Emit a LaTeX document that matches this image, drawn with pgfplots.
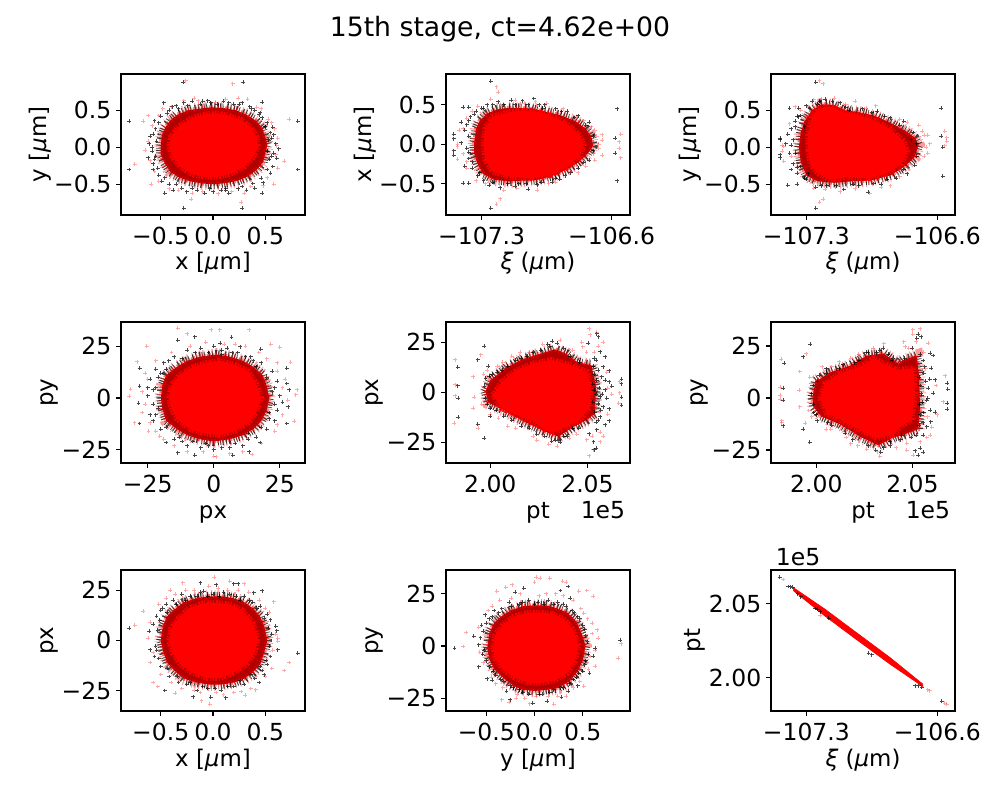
\documentclass[border=0pt]{standalone}
\usepackage{fontspec}
\setmainfont{DejaVu Sans}
\usepackage{pgfplots}
\pgfplotsset{compat=1.18}
\newcommand\fs{\fontsize{16.9}{20}\selectfont}
\newcommand\fl{\fontsize{16.5}{20}\selectfont}
\newcommand\mum{[{\itshape μ}m]}
\newcommand\xilab{{\itshape ξ} ({\itshape μ}m)}
\definecolor{haloc}{rgb}{0.7,0,0}
\pgfplotsset{
 panel/.style={width=132.5pt,height=101.5pt,scale only axis,anchor=south west,
  tick align=outside,tick pos=left,major tick length=3.5pt,axis line style={line width=0.8pt},
  every tick/.style={black,line width=0.8pt},
  tick label style={font=\fs},label style={font=\fl},
  xticklabel style={yshift=-2pt},
  xlabel style={at={(axis description cs:0.5,0)},anchor=base,yshift=-39.6pt},
  ylabel style={yshift=-4.5pt},
  clip=true},
 blk/.style={only marks,mark=+,mark size=1.4pt,mark options={draw=black,draw opacity=.72,line width=.65pt}},
 rd/.style={only marks,mark=+,mark size=1.4pt,mark options={draw=red,draw opacity=.35,line width=.65pt}},
 brpink/.style={fill=none,draw=red,draw opacity=.4,line width=9pt,dash pattern=on .6pt off 1.4pt on .9pt off 3.1pt on .5pt off 2.2pt on .8pt off 1.8pt,mark=none},
 brblack/.style={fill=none,draw=black,draw opacity=.75,line width=6.5pt,dash pattern=on .7pt off 1.1pt on .5pt off 2.6pt on 1pt off 1.5pt on .6pt off 1.9pt on .8pt off .9pt,mark=none},
 brred/.style={fill=haloc,draw=red,draw opacity=.55,line width=3pt,dash pattern=on .9pt off 1.3pt on .6pt off .8pt on 1.2pt off 1pt,mark=none},
 brcore/.style={fill=red,draw=red,line width=4pt,dash pattern=on 1.1pt off .8pt on .8pt off 1.4pt on 1.5pt off .7pt,mark=none},
}
\newcommand\halo[1]{\addplot[brpink] coordinates {#1} --cycle;\addplot[brblack] coordinates {#1} --cycle;\addplot[brred] coordinates {#1} --cycle;}
\newcommand\core[1]{\addplot[brcore] coordinates {#1} --cycle;}
\begin{document}
\begin{tikzpicture}
\path[use as bounding box] (0,0) rectangle (720pt,576pt);
\node[font=\fontsize{19.2}{24}\selectfont] at (360pt,555pt) {15th stage, ct=4.62e+00};
% ---------- panel 1
\begin{axis}[panel,at={(87.12pt,421.2pt)},xmin=-0.88,xmax=0.88,ymin=-0.915,ymax=0.99,
 xtick={-0.5,0,0.5},xticklabels={−0.5,0.0,0.5},ytick={-0.5,0,0.5},yticklabels={−0.5,0.0,0.5},
 xlabel={x \mum},ylabel={y \mum}]
\addplot[blk] coordinates {(-.80,.35)(-.80,-.30)(-.285,.88)(.29,.88)(.81,.35)(.81,-.30)(-.28,-.82)(.28,-.82)(-.46,-.62)(.47,-.62)
(.60,.05)(.58,-.08)(.61,-.15)(.55,.20)(.57,.27)(.52,.33)(.47,.40)(.47,.61)(.40,.50)(.35,.55)(.28,.60)(.20,.58)(.10,.62)(.04,.58)(-.05,.63)(-.12,.58)(-.20,.62)(-.28,.60)(-.35,.56)(-.47,.60)(-.42,.50)(-.50,.42)(-.56,.36)(-.55,.25)(-.60,.15)(-.61,.05)(-.58,-.05)(-.62,-.14)(-.57,-.22)(-.57,-.30)(-.52,-.38)(-.49,-.46)(-.42,-.50)(-.38,-.58)(-.30,-.55)(-.25,-.60)(-.15,-.58)(-.08,-.62)(0,-.60)(.08,-.58)(.15,-.62)(.24,-.56)(.32,-.58)(.40,-.55)(.48,-.48)(.55,-.35)(.57,-.26)(.63,-.02)(.56,.12)(-.54,.08)(-.55,-.12)(.54,-.16)(.45,.47)(-.39,.55)(.12,-.55)
(.53,.10)(.52,-.05)(.50,.28)(.44,.44)(.37,.52)(.25,.58)(.15,.60)(-.02,.60)(-.10,.62)(-.24,.56)(-.33,.52)(-.44,.46)(-.52,.33)(-.57,.18)(-.58,.0)(-.56,-.16)(-.53,-.28)(-.46,-.41)(-.35,-.50)(-.20,-.55)(-.03,-.56)(.12,-.58)(.28,-.53)(.38,-.49)(.46,-.42)(.52,-.30)(.56,-.12)(.58,.17)};
\addplot[rd] coordinates {(-.26,.90)(.19,.86)(-.67,.35)(-.75,-.23)(.73,.38)(.68,-.19)(-.21,-.70)(.27,-.74)(-.62,.43)(-.59,-.50)(.58,-.50)
(.46,.52)(.33,.65)(.24,.66)(-.28,.63)(-.40,.55)(-.48,.52)(-.58,.29)(-.62,.08)(-.60,-.18)(-.52,-.46)(-.33,-.58)(-.10,-.60)(.18,-.60)(.36,-.53)(.52,-.41)(.60,-.10)(.59,.25)(.53,.38)(.02,.61)(-.14,.63)
(.62,.12)(.56,.33)(.42,.54)(.12,.65)(-.18,.66)(-.52,.43)(-.65,-.04)(-.56,-.32)(-.42,-.56)(-.20,-.62)(.05,-.63)(.30,-.62)(.48,-.52)(.62,-.28)(.61,.02)};
\halo{(-.50,.02)(-.49,.16)(-.46,.26)(-.41,.36)(-.34,.44)(-.24,.50)(-.14,.52)(-.02,.54)(.10,.53)(.22,.50)(.32,.44)(.41,.36)(.47,.26)(.50,.14)(.52,.03)(.50,-.08)(.48,-.20)(.42,-.30)(.34,-.39)(.24,-.45)(.14,-.48)(.02,-.50)(-.10,-.49)(-.22,-.46)(-.32,-.41)(-.41,-.33)(-.46,-.22)(-.50,-.10)}
\core{(-.42,.02)(-.40,.15)(-.33,.28)(-.22,.38)(-.10,.44)(.03,.46)(.15,.43)(.27,.37)(.36,.27)(.42,.13)(.43,.00)(.38,-.14)(.30,-.26)(.18,-.35)(.05,-.40)(-.08,-.40)(-.20,-.36)(-.31,-.27)(-.39,-.13)}
\end{axis}
% ---------- panel 2
\begin{axis}[panel,at={(321.12pt,421.2pt)},xmin=-107.492,xmax=-106.501,ymin=-0.895,ymax=0.89,
 xtick={-107.3,-106.6},xticklabels={−107.3,−106.6},ytick={-0.5,0,0.5},yticklabels={−0.5,0.0,0.5},
 xlabel={\xilab},ylabel={x \mum}]
\addplot[blk] coordinates {(-107.25,.80)(-107.25,-.81)(-106.57,.45)(-106.57,-.46)(-106.58,.08)(-106.58,-.11)(-107.45,.13)(-107.45,.07)(-107.45,-.08)(-107.45,-.14)(-107.40,.47)(-107.37,.47)(-107.40,-.49)(-107.37,-.49)
(-107.39,.18)(-107.38,.25)(-107.36,.35)(-107.33,.42)(-107.27,.50)(-107.21,.54)(-107.14,.56)(-107.08,.55)(-107.02,.58)(-106.96,.50)(-106.90,.45)(-106.84,.42)(-106.78,.36)(-106.72,.28)
(-107.38,-.05)(-107.37,-.18)(-107.35,-.30)(-107.32,-.40)(-107.26,-.52)(-107.20,-.55)(-107.12,-.53)(-107.05,-.57)(-107.00,-.51)(-106.92,-.48)(-106.85,-.40)(-106.78,-.30)(-106.72,-.20)(-107.41,.02)(-107.29,.46)(-107.29,-.46)(-107.18,.50)(-106.99,.50)(-107.10,-.50)(-106.88,-.44)
(-107.37,.10)(-107.37,.30)(-107.34,.38)(-107.30,.46)(-107.24,.50)(-107.12,.50)(-107.05,.50)(-106.97,.46)(-106.87,.41)(-106.80,.34)(-106.74,.24)(-106.70,.10)(-106.70,-.08)(-106.75,-.23)(-106.82,-.36)(-106.90,-.43)(-106.98,-.48)(-107.06,-.50)(-107.16,-.50)(-107.24,-.48)(-107.31,-.36)(-107.35,-.22)(-107.37,-.10)(-107.39,-.28)(-107.41,.28)};
\addplot[rd] coordinates {(-107.22,.73)(-107.21,.66)(-107.22,-.76)(-107.20,-.69)(-106.55,.13)(-106.56,.03)(-106.56,-.05)(-106.55,-.17)(-107.43,0)(-107.43,-.03)(-107.43,-.19)(-107.42,.18)(-106.65,.12)(-106.65,.05)(-106.65,-.14)
(-107.38,.33)(-107.35,.42)(-107.12,.56)(-107.07,.52)(-106.95,.52)(-106.75,.30)(-106.69,.18)(-106.68,.10)(-106.67,-.05)(-106.69,-.20)(-106.74,-.28)(-106.82,-.35)(-106.90,-.48)(-107.00,-.58)(-107.11,-.56)(-107.28,-.50)(-107.38,-.30)(-106.78,.28)
(-107.40,.20)(-107.40,-.12)(-107.38,-.22)(-107.32,.48)(-107.25,.57)(-107.01,.54)(-106.86,.45)(-106.71,.22)(-106.67,0)(-106.70,-.12)(-106.78,-.36)(-106.94,-.50)(-107.18,-.58)(-107.33,-.46)};
\halo{(-107.34,.03)(-107.33,.2)(-107.31,.3)(-107.27,.39)(-107.22,.44)(-107.16,.46)(-107.10,.46)(-107.03,.45)(-106.95,.41)(-106.88,.37)(-106.80,.30)(-106.74,.20)(-106.71,.10)(-106.70,-.02)(-106.73,-.12)(-106.78,-.23)(-106.85,-.33)(-106.92,-.40)(-107.00,-.45)(-107.08,-.46)(-107.15,-.47)(-107.23,-.45)(-107.29,-.38)(-107.32,-.26)(-107.34,-.12)}
\core{(-107.29,.01)(-107.28,.22)(-107.24,.35)(-107.15,.41)(-107.04,.43)(-106.93,.37)(-106.84,.26)(-106.77,.11)(-106.75,-.01)(-106.77,-.14)(-106.84,-.29)(-106.93,-.39)(-107.04,-.43)(-107.15,-.41)(-107.24,-.35)(-107.28,-.20)}
\end{axis}
% ---------- panel 3
\begin{axis}[panel,at={(555.12pt,421.2pt)},xmin=-107.489,xmax=-106.505,ymin=-0.915,ymax=0.99,
 xtick={-107.3,-106.6},xticklabels={−107.3,−106.6},ytick={-0.5,0,0.5},yticklabels={−0.5,0.0,0.5},
 xlabel={\xilab},ylabel={y \mum}]
\addplot[blk] coordinates {(-107.25,.88)(-107.25,-.82)(-106.58,.53)(-106.58,.15)(-106.57,0)(-106.57,-.39)(-107.44,.12)(-107.44,.10)(-107.44,-.10)(-107.44,-.14)(-107.40,-.51)(-107.35,-.50)(-107.39,.53)(-107.34,.53)
(-107.40,.18)(-107.38,.25)(-107.36,.35)(-107.33,.43)(-107.27,.62)(-107.20,.65)(-107.12,.60)(-107.07,.50)(-107.00,.52)(-106.92,.49)(-106.85,.40)(-106.78,.35)(-107.39,-.08)(-107.37,-.22)(-107.35,-.35)(-107.30,-.43)(-107.25,-.54)(-107.19,-.52)(-107.10,-.57)(-107.02,-.52)(-106.97,-.61)(-106.90,-.50)(-106.82,-.42)(-106.76,-.36)(-106.72,-.24)(-107.38,.03)(-107.34,.41)(-107.31,.28)(-107.33,-.26)(-107.29,-.36)(-107.24,.58)(-106.74,.10)
(-107.37,.10)(-107.36,.28)(-107.35,.42)(-107.30,.56)(-107.23,.62)(-107.16,.62)(-107.09,.54)(-106.95,.47)(-106.88,.42)(-106.80,.30)(-106.73,.20)(-106.71,.05)(-106.71,-.12)(-106.78,-.30)(-106.87,-.43)(-106.94,-.49)(-107.05,-.50)(-107.14,-.52)(-107.22,-.52)(-107.31,-.42)(-107.35,-.27)(-107.36,-.08)(-107.41,.05)(-107.38,-.30)};
\addplot[rd] coordinates {(-107.23,.90)(-107.21,.86)(-107.23,-.74)(-107.21,-.70)(-106.56,.22)(-106.55,.13)(-106.55,.08)(-106.56,.02)(-107.43,.03)(-107.42,.01)(-107.43,-.05)(-107.42,-.19)(-106.65,.16)(-106.64,.05)(-106.65,-.08)
(-107.36,.55)(-107.30,.42)(-107.22,.65)(-107.15,.66)(-107.04,.62)(-106.93,.56)(-106.80,.38)(-106.70,.30)(-106.67,.16)(-106.71,-.10)(-106.76,-.27)(-106.85,-.52)(-106.96,-.62)(-107.12,-.60)(-107.20,-.57)(-107.35,-.22)
(-107.39,.32)(-107.33,.50)(-107.26,.64)(-107.09,.58)(-106.98,.53)(-106.76,.34)(-106.68,.22)(-106.66,.0)(-106.67,-.12)(-106.80,-.40)(-106.90,-.54)(-107.04,-.56)(-107.26,-.55)(-107.38,-.12)};
\halo{(-107.34,.0)(-107.33,.2)(-107.31,.35)(-107.27,.5)(-107.22,.58)(-107.15,.57)(-107.10,.50)(-107.03,.48)(-106.94,.43)(-106.85,.33)(-106.77,.22)(-106.72,.13)(-106.70,.03)(-106.72,-.13)(-106.77,-.25)(-106.85,-.38)(-106.96,-.45)(-107.06,-.46)(-107.15,-.48)(-107.24,-.46)(-107.30,-.38)(-107.33,-.20)}
\core{(-107.29,-.04)(-107.29,.19)(-107.27,.41)(-107.24,.52)(-107.17,.55)(-107.11,.48)(-107.03,.44)(-106.94,.37)(-106.85,.24)(-106.78,.08)(-106.76,-.06)(-106.79,-.22)(-106.87,-.35)(-106.96,-.42)(-107.08,-.40)(-107.17,-.44)(-107.24,-.35)(-107.28,-.22)}
\end{axis}
% ---------- panel 4
\begin{axis}[panel,at={(87.12pt,242.64pt)},xmin=-35.1,xmax=34.5,ymin=-31.4,ymax=36.7,
 xtick={-25,0,25},xticklabels={−25,0,25},ytick={-25,0,25},yticklabels={−25,0,25},
 xlabel={px},ylabel={py}]
\addplot[blk] coordinates {(-13.7,27.9)(-7.2,29.5)(2.5,26.5)(6.7,29.4)(10,24.8)(17.7,23.5)(-28,14.4)(27.6,14.4)(-28.1,5.8)(-28.5,-2.6)(-28.1,-12.3)(27.6,-12.3)(27.6,7)(28.5,3.9)(28.1,-4.2)(-13.7,-26.5)(-7.2,-27.7)(7.2,-27.7)(13.3,-26)(-18,-21.5)(17.5,-21.5)
(-24,9)(-25,1)(-24,-8)(-22,14)(-19,17)(-15,20)(-10,23)(-5,24)(0,25)(5,24)(9,22)(14,20)(18,17)(22,13)(24,8)(25,1)(24,-6)(23,-11)(20,-15)(16,-19)(11,-23)(6,-24)(0,-25)(-5,-24)(-10,-23)(-15,-20)(-20,-15)(-23,-11)(-22,5)(-21,-5)(22,3)(21,-7)(-17,18)(-12,-21)(3,23)(-2,-23)(13,-20)
(-23,4)(-23,-3)(-21,10)(-18,14)(-12,19)(-7,22)(-2,22)(3,21)(7,22)(12,20)(16,15)(20,10)(23,5)(23,-3)(21,-10)(18,-14)(13,-17)(8,-22)(3,-24)(-3,-22)(-8,-21)(-13,-19)(-18,-14)(-22,-8)(-25,5)(26,-2)(-20,12)(15,18)};
\addplot[rd] coordinates {(-13.7,33.7)(-1,33)(2.3,33)(13.3,33)(-10,31)(-25.4,25)(21.5,26)(25,24.5)(-29,17.6)(29,17.3)(-31.5,4.2)(-32,.8)(31.5,3.9)(31,1.5)(-30,-12)(30.4,-11.3)(-24.7,-16)(-20.5,-18.4)(.9,-28.4)(14.6,-27.3)(-10,-26)
(-26,12)(-27,-7)(24,13)(26,-8)(23,-16)(18,-22)(6,-27)(-4,-26)(-15,-23)(-24,-12)(-22,18)(-16,22)(4,26)(12,25)(20,19)(26,5)
(-27,3)(-26,-3)(-25,9)(-22,-16)(-19,-20)(-9,25)(-3,27)(8,26)(17,22)(24,17)(28,-1)(27,9)(24,-13)(11,-26)(0,-28)};
\halo{(-20,0)(-19.5,6)(-18,11)(-14,15)(-10,18)(-5,20)(1,21)(6,20)(11,18)(15,15)(18.5,11)(20,6)(21,0)(20,-6)(18,-11)(15,-15)(11,-18)(6,-20)(0,-21)(-5,-20)(-10,-18)(-14,-15)(-18,-11)(-19.5,-5)}
\core{(-17,0)(-16,6)(-13,11)(-8,15)(-3,17)(2,18)(8,16)(13,13)(16,7)(18,0)(16,-7)(13,-12)(8,-16)(2,-18)(-4,-17)(-9,-15)(-14,-10)(-16,-5)}
\end{axis}
% ---------- panel 5
\begin{axis}[panel,at={(321.12pt,242.64pt)},xmin=1.9772,xmax=2.0719,ymin=-35.35,ymax=35.15,
 xtick={2.00,2.05},xticklabels={2.00,2.05},ytick={-25,0,25},yticklabels={−25,0,25},
 xlabel={pt},ylabel={px}]
\addplot[blk] coordinates {(1.9833,12.5)(1.9833,3.2)(1.9835,-3)(1.9835,-12.5)(1.9935,16.2)(1.9935,-16)(1.9969,23)(1.9969,-23)(2.0675,6.5)(2.0675,4.2)(2.0675,-2.5)(2.0675,-6.5)(2.0612,10.7)(2.0612,5.3)(2.0612,-8.3)(2.0612,-14.2)(2.0548,29.2)(2.0557,27.8)(2.0534,-28.8)(2.0544,-28)(2.0505,24.5)(2.0565,20.3)(2.0591,17.8)(2.0582,12.8)(2.0574,7.8)(2.0591,1.2)(2.0565,-2.2)(2.06,-3)(2.0582,-7.2)(2.0565,-12.2)(2.0591,-16.3)(2.0548,-18.8)(2.051,-20.8)(2.0531,-24.7)
(2.0527,4)(2.0535,1)(2.0545,-1)(2.0527,-5)(2.0535,9)(2.053,13)(2.0545,16)(2.0548,6)(2.0555,-6)(2.0538,-10)(2.0545,-15)(2.056,2)(2.0575,-1)(2.0318,25.6)(2.0345,24.5)(2.0378,22)(2.0295,24)(2.026,21)(2.019,18)(2.013,16)(2.006,11)(1.9995,8)(1.997,3)(1.9975,-3)(2.0,-8)(2.007,-12)(2.016,-17)(2.024,-21)(2.0315,-24.5)(2.036,-25)(2.0378,-22)(2.0425,-18)(1.999,13)(2.0,-12)
(2.001,9)(2.0035,10)(2.009,13)(2.016,17)(2.022,20)(2.0305,23)(2.041,18)(2.046,15)(2.0535,17)(2.0555,11)(2.0568,-9)(2.0555,-14)(2.0455,-18)(2.0395,-22)(2.0335,-24)(2.028,-22)(2.02,-18)(2.011,-14)(2.003,-9)(1.9985,-6)(1.9975,7)(2.059,6)(2.0625,3)};
\addplot[rd] coordinates {(1.982,16.2)(1.982,3.7)(1.982,-1.8)(1.9815,-15.5)(1.9912,7.8)(1.9918,-2.5)(1.9912,-8)(1.9938,-18)(1.995,18.7)(2.051,31.7)(2.0514,28.7)(2.0548,30)(2.0476,22.8)(2.0582,25)(2.051,-31.7)(2.053,-28.8)(2.0565,-24.7)(2.0497,-23.8)(2.0665,5.3)(2.0665,-.2)(2.066,-5.5)(2.0604,2)
(2.0035,13)(2.011,18)(2.02,20)(2.027,24)(2.0425,21)(2.047,25)(2.0495,20)(2.0555,23)(2.0042,-13)(2.013,-18)(2.022,-22)(2.03,-26)(2.0445,-21)(2.0525,-22)(2.0565,-20)(1.9965,9)(1.9955,-6)
(1.9985,11)(2.0065,15)(2.0155,20)(2.036,26)(2.0495,16)(2.0535,20)(2.06,10)(2.0625,-1)(2.0605,-11)(2.058,-22)(2.0405,-23)(2.0345,-27)(2.024,-24)(2.009,-17)(2.0,-11)};
\halo{(1.9975,.3)(2.0,6)(2.0084,12.5)(2.017,16.7)(2.028,20)(2.0333,21.5)(2.0393,19.2)(2.0445,15.2)(2.052,13.5)(2.0545,2.8)(2.0538,-10.5)(2.0497,-13.8)(2.0428,-17.2)(2.035,-22.2)(2.0273,-19.3)(2.0153,-13.5)(2.0067,-8.7)(1.999,-5.3)}
\core{(2.0015,-1.3)(2.0058,5.3)(2.0136,11.2)(2.0222,14.5)(2.0316,16.2)(2.0411,13.7)(2.0497,10.3)(2.0517,3.7)(2.0514,-7.2)(2.0462,-13.8)(2.0393,-17.2)(2.0316,-20.5)(2.0222,-14.7)(2.0136,-11.3)(2.0058,-8)}
\end{axis}
% ---------- panel 6
\begin{axis}[panel,at={(555.12pt,242.64pt)},xmin=1.9764,xmax=2.0722,ymin=-31.25,ymax=36.5,
 xtick={2.00,2.05},xticklabels={2.00,2.05},ytick={-25,0,25},yticklabels={−25,0,25},
 xlabel={pt},ylabel={py}]
\addplot[blk] coordinates {(1.9833,16.7)(1.9828,4.6)(1.9828,-1.1)(1.9828,-13.3)(1.9932,19.9)(1.9969,25.8)(1.9932,-15.1)(1.9965,-21.3)(2.0682,7)(2.0684,4.3)(2.0682,-2.6)(2.0682,-5.4)(2.0592,21.5)(2.0609,20.4)(2.0599,14.3)(2.0618,8.7)(2.0583,4.6)(2.0609,2.2)(2.0575,-1)(2.0618,-6.9)(2.0592,-5.8)(2.0595,-11.4)(2.0575,-13.8)(2.0557,-26.1)(2.0531,-27.4)(2.0514,-25.3)(2.054,-24.2)(2.0531,30.6)(2.0545,29.5)(2.0523,28.7)(2.0349,23.9)(2.0314,21.8)(2.0271,22)
(2.0535,10)(2.054,6)(2.0545,2)(2.0535,-3)(2.054,-8)(2.0535,-13)(2.055,-2)(2.056,12)(2.0555,18)(2.05,24)(2.0495,-19)(2.0555,-18)(2.057,8)(2.0375,21)(2.0395,18)(2.022,18)(2.014,16)(2.0015,11)(1.9985,6)(1.9985,-3)(2.0,-8)(2.008,-13)(2.019,-20)(2.031,-25)(2.035,-24)(2.0385,-21)(2.0445,-18)(2.005,14)(2.0005,-11)
(2.0005,8)(2.005,12)(2.012,14)(2.02,17)(2.026,22)(2.033,23)(2.04,19)(2.046,19)(2.054,21)(2.0565,15)(2.058,0)(2.056,-7)(2.0555,-12)(2.052,-18)(2.044,-20)(2.0385,-23)(2.0335,-26)(2.027,-23)(2.015,-17)(2.006,-12)(1.9985,-7)(1.9975,2)(2.059,9)};
\addplot[rd] coordinates {(1.9816,18.6)(1.9811,5.1)(1.9813,1.4)(1.9813,-.5)(1.9819,-10.9)(1.9819,-12)(1.9913,12.7)(1.991,3.8)(1.9913,-4.2)(1.9946,21.2)(1.9941,-12.2)(2.0502,32.7)(2.054,33.2)(2.0502,30.6)(2.0583,26.3)(2.0462,24.7)(2.047,-21.8)(2.0505,-27.6)(2.047,-25)(2.0592,-17.8)(2.067,10.6)(2.0661,-1.8)(2.0319,-25.8)(2.0262,-24.7)
(1.9965,10)(1.996,-6)(2.003,15)(2.012,17.5)(2.022,21)(2.0295,24)(2.0455,27)(2.052,27)(2.056,22)(2.058,-9)(2.0575,-19)(2.0155,-19)(2.0075,-15)(2.0215,-23)(1.9975,-9)
(1.9985,10)(2.008,15)(2.018,19)(2.035,26)(2.048,24)(2.057,14)(2.0625,6)(2.063,-8)(2.06,-14)(2.054,-21)(2.0415,-24)(2.033,-28)(2.018,-22)(2.005,-15)};
\halo{(1.998,.6)(1.9995,7.7)(2.0071,12.3)(2.0175,15.5)(2.0262,20.3)(2.0349,21.4)(2.0427,16.5)(2.0453,18.3)(2.0523,20.3)(2.0535,10.3)(2.054,-5.8)(2.053,-15)(2.0462,-17.4)(2.0401,-19)(2.0323,-22.7)(2.0236,-19)(2.0123,-12.6)(2.0025,-8.8)(1.9985,-4.2)}
\core{(2.0019,-.2)(2.0045,7)(2.0123,11.9)(2.0227,15)(2.0297,19)(2.0366,15.9)(2.0418,13.5)(2.0505,14.3)(2.0514,2.2)(2.0497,-10.6)(2.0436,-13.8)(2.0401,-17.8)(2.0314,-19.4)(2.0245,-16.2)(2.0141,-11.4)(2.0054,-7.4)}
\end{axis}
% ---------- panel 7
\begin{axis}[panel,at={(87.12pt,64.08pt)},xmin=-0.88,xmax=0.88,ymin=-35.2,ymax=35.1,
 xtick={-0.5,0,0.5},xticklabels={−0.5,0.0,0.5},ytick={-25,0,25},yticklabels={−25,0,25},
 xlabel={x \mum},ylabel={px}]
\addplot[blk] coordinates {(-.80,6.2)(.81,-6.3)(-.12,28.7)(.03,27.8)(.20,28.2)(.24,28.2)(.47,24.8)(.39,23.7)(-.09,24.5)(.61,4.8)(.55,10.3)(.60,7)(-.60,-4.7)(-.61,4.5)(-.46,-25)(-.19,-28)(-.02,-28.3)(.12,-28.5)(.49,-17.2)(.62,-4.7)
(-.57,8)(-.56,-8)(-.54,12)(-.50,15)(-.45,18)(-.38,20)(-.30,23)(-.22,22)(-.12,24)(0,23)(.10,24)(.22,22)(.30,22)(.38,19)(.45,17)(.52,13)(.56,3)(.55,-8)(.52,-12)(.47,-15)(.40,-19)(.30,-22)(.20,-23)(.08,-25)(-.05,-24)(-.15,-25)(-.25,-22)(-.33,-21)(-.42,-18)(-.50,-13)(-.55,-3)(-.48,16)(.44,-21)
(-.53,5)(-.54,-5)(-.51,10)(-.44,14)(-.35,18)(-.26,20)(-.15,22)(-.05,22)(.06,22)(.16,23)(.26,20)(.35,20)(.42,16)(.49,11)(.53,6)(.54,-3)(.51,-10)(.45,-13)(.36,-17)(.26,-20)(.14,-23)(.02,-24)(-.10,-23)(-.22,-21)(-.34,-18)(-.44,-14)(-.52,-9)};
\addplot[rd] coordinates {(-.75,7.5)(-.67,14.5)(-.29,28.7)(.01,31.5)(.16,29.5)(.30,28.2)(-.41,25)(.58,19.2)(.73,-11)(.68,-15)(-.57,-21)(-.53,-23)(-.36,-26.3)(-.11,-30)(-.03,-31.7)(.31,-27.2)(.27,-25.5)(.62,1.2)(.62,-.5)(-.62,1.2)(.41,-24.7)
(-.52,18)(-.36,23)(-.18,25)(.05,26)(.14,25)(.34,24)(.50,16)(.57,-5)(.56,-14)(.20,-26)(.03,-26)(-.18,-25)(-.40,-21)(-.57,-6)
(-.60,9)(-.45,21)(-.26,25)(-.04,27)(.24,25)(.44,20)(.54,14)(.60,3)(.50,-18)(.36,-24)(.10,-27)(-.12,-26)(-.30,-24)(-.50,-17)(-.60,-11)};
\halo{(-.50,0)(-.48,7)(-.44,12)(-.38,15)(-.28,19)(-.16,21)(-.04,22)(.08,22)(.20,21)(.30,19)(.38,16)(.45,12)(.49,7)(.52,0)(.49,-6)(.45,-12)(.38,-16)(.30,-19)(.20,-21)(.08,-22)(-.04,-22)(-.16,-21)(-.28,-19)(-.37,-15)(-.44,-11)(-.48,-5)}
\core{(-.42,0)(-.40,6)(-.33,11)(-.23,16)(-.10,18.5)(.03,18.7)(.16,18)(.28,15)(.38,9)(.43,1)(.40,-6)(.32,-12)(.20,-16)(.07,-18.8)(-.06,-18.8)(-.20,-16)(-.31,-12)(-.39,-6)}
\end{axis}
% ---------- panel 8
\begin{axis}[panel,at={(321.12pt,64.08pt)},xmin=-0.918,xmax=0.991,ymin=-31.1,ymax=36.4,
 xtick={-0.5,0,0.5},xticklabels={−0.5,0.0,0.5},ytick={-25,0,25},yticklabels={−25,0,25},
 xlabel={y \mum},ylabel={py}]
\addplot[blk] coordinates {(-.83,-1)(.89,2.7)(-.11,27.8)(.35,28.5)(.27,26.6)(-.2,25.7)(.37,23)(-.51,15)(-.63,4.6)(-.58,.6)(-.58,-10)(-.49,-15.6)(-.44,-16.4)(.28,-24.6)(.35,-21.7)(-.02,-27.3)(.13,-26.5)(-.25,-25.7)(.61,-4.9)(.57,-12.9)(-.29,-21.7)(.63,-1)
(-.55,10)(-.47,13)(-.42,17)(-.34,18)(-.26,21)(-.16,20)(-.06,22)(.04,21)(.14,22)(.24,21)(.33,19)(.41,16)(.47,13)(.52,8)(.55,2)(.53,-7)(.50,-12)(.44,-15)(.36,-18)(.27,-20)(.16,-22)(.05,-23)(-.06,-23)(-.16,-21)(-.25,-19)(-.35,-16)(-.43,-12)(-.50,-7)(-.52,-2)(-.56,4)(.45,-19)
(-.53,7)(-.54,-4)(-.50,11)(-.44,14)(-.37,16)(-.24,19)(-.12,21)(0,20)(.10,20)(.20,20)(.30,20)(.39,17)(.45,14)(.50,10)(.53,5)(.56,-4)(.52,-9)(.46,-13)(.40,-16)(.30,-20)(.20,-21)(.08,-23)(-.12,-22)(-.22,-20)(-.32,-17)(-.40,-14)(-.47,-10)};
\addplot[rd] coordinates {(-.71,6.5)(-.74,-.2)(.9,1.1)(.87,-5.7)(.02,33)(.06,32.5)(.16,32.5)(0,30.5)(.29,31)(.33,30.6)(-.3,28.2)(-.23,29.3)(-.39,26.2)(.46,26.2)(.54,26.6)(.61,23.8)(.66,3.8)(.65,7.8)(.63,-9.7)(.51,-19.3)(-.34,-25.7)(-.26,-27)(-.05,-27.6)(.2,-27.8)(-.19,-24.9)(.51,15.8)
(-.48,17)(-.36,22)(-.15,25)(.05,24)(.22,25)(.40,22)(.55,13)(.60,6)(.58,-5)(.47,-17)(.33,-24)(.14,-24)(-.1,-25)(-.33,-20)(-.45,-15)(-.57,-3)
(-.58,9)(-.44,19)(-.24,23)(.12,25)(.30,24)(.48,18)(.60,11)(.63,-2)(.56,-11)(.40,-20)(.24,-24)(.02,-24)(-.18,-23)(-.40,-18)(-.53,-8)};
\halo{(-.49,-1)(-.47,6)(-.42,11)(-.35,14)(-.25,17)(-.13,19)(-.01,19.5)(.12,19.5)(.24,18)(.34,16)(.43,12)(.49,6)(.53,0)(.50,-7)(.45,-12)(.36,-17)(.25,-20)(.12,-21)(0,-21.5)(-.12,-21)(-.22,-19)(-.33,-15)(-.42,-11)(-.47,-6)}
\core{(-.43,-.5)(-.41,5)(-.33,10)(-.22,14)(-.09,15.8)(.05,16)(.18,15.5)(.30,13)(.40,8)(.46,0)(.42,-7)(.34,-13)(.21,-16.5)(.07,-17.7)(-.07,-17.5)(-.21,-15)(-.33,-11)(-.41,-6)}
\end{axis}
% ---------- panel 9
\begin{axis}[panel,at={(555.12pt,64.08pt)},xmin=-107.489,xmax=-106.505,ymin=1.9774,ymax=2.0726,
 xtick={-107.3,-106.6},xticklabels={−107.3,−106.6},ytick={2.00,2.05},yticklabels={2.00,2.05},
 xlabel={\xilab},ylabel={pt}]
\addplot[blk] coordinates {(-107.443,2.0676)(-107.396,2.0615)(-107.385,2.0613)(-107.373,2.061)(-107.345,2.0565)(-107.33,2.0545)(-107.254,2.0466)(-107.24,2.046)(-107.225,2.0445)(-107.18,2.040)(-106.968,2.0165)(-106.95,2.0155)(-106.719,1.9945)(-106.70,1.9945)(-106.683,1.9933)(-106.576,1.984)};
\addplot[rd] coordinates {(-107.423,2.0662)(-106.651,1.9917)(-106.64,1.9910)(-106.550,1.982)(-106.56,1.9828)(-107.227,2.042)};
\addplot[fill=red,draw=red,line width=.5pt,mark=none] coordinates {(-107.3695,2.0607)(-107.2,2.0461)(-107.031,2.0302)(-106.853,2.0135)(-106.678,1.9956)(-106.678,1.9940)(-106.853,2.0091)(-107.031,2.0256)(-107.2,2.0415)(-107.3695,2.0587)} --cycle;
\end{axis}
\node[font=\fs,anchor=base east] at (453.6pt,203pt) {1e5};
\node[font=\fs,anchor=base east] at (687.6pt,203pt) {1e5};
\node[font=\fs,anchor=base west] at (555.12pt,168.5pt) {1e5};
\end{tikzpicture}
\end{document}
